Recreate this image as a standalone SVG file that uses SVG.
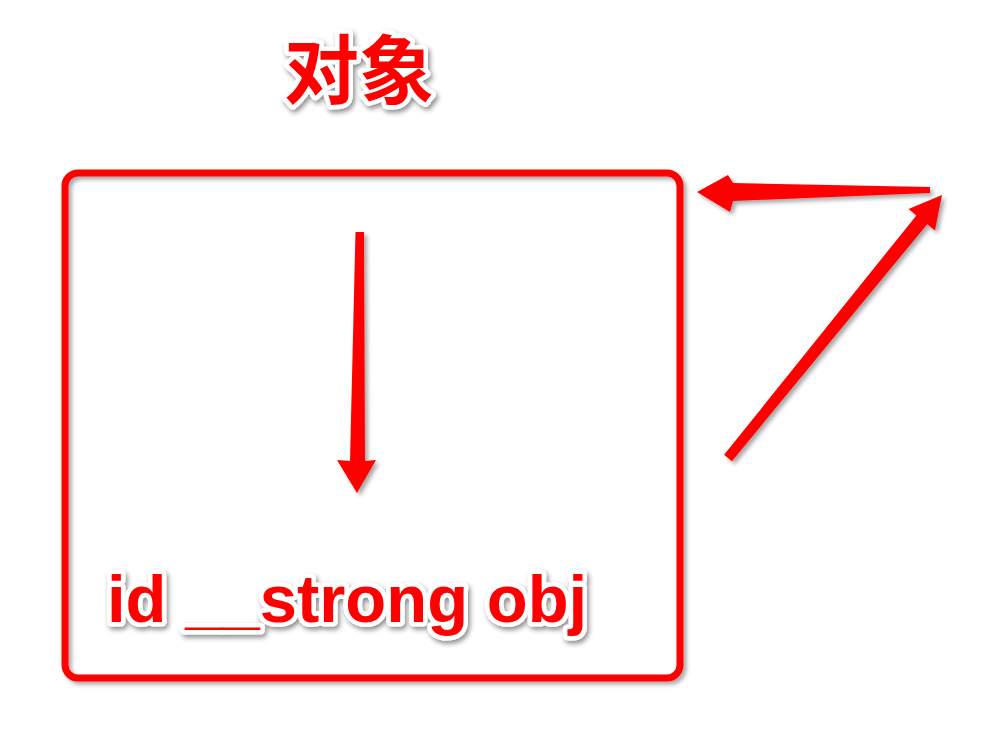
<svg xmlns="http://www.w3.org/2000/svg" width="986" height="742" viewBox="0 0 986 742">
  <defs>
    <filter id="shadow" x="-20%" y="-20%" width="140%" height="140%">
      <feDropShadow dx="3" dy="3" stdDeviation="2" flood-color="#000" flood-opacity="0.35"/>
    </filter>
    <filter id="textshadow" x="-20%" y="-30%" width="140%" height="160%">
      <feDropShadow dx="2" dy="3" stdDeviation="2.5" flood-color="#000" flood-opacity="0.45"/>
    </filter>
  </defs>
  <style>
    .lbl { fill: #ff0000; stroke: #ffffff; stroke-width: 9; stroke-linejoin: round; paint-order: stroke; font-weight: bold; filter: url(#textshadow); }
    .arrow { fill: #ff0000; filter: url(#shadow); }
  </style>
  <rect width="986" height="742" fill="#ffffff"/>
  <g id="title">
    <text class="lbl" x="359" y="98" font-size="75" text-anchor="middle" font-family="'Noto Sans CJK SC', 'Noto Sans CJK JP', sans-serif">对象</text>
  </g>
  <g id="object-box">
    <rect x="65" y="173" width="615" height="505" rx="13" ry="13" fill="none" stroke="#ff0000" stroke-width="7" filter="url(#shadow)"/>
    <text class="lbl" x="107" y="622" font-size="67" font-family="'Liberation Sans', Arial, sans-serif">id __strong obj</text>
  </g>
  <g id="connectors">
    <polygon class="arrow" points="355.5,232 364,232 365,461 376,460 357,493 337,460 350,461"/>
    <polygon class="arrow" points="930,187 733,183 728,175 697,192 730,212 733,201 930,193"/>
    <polygon class="arrow" points="724.1,454.8 916.4,215.4 908.6,209.1 942,195 935,230.5 927.2,224.2 731.9,461.2"/>
  </g>
</svg>
